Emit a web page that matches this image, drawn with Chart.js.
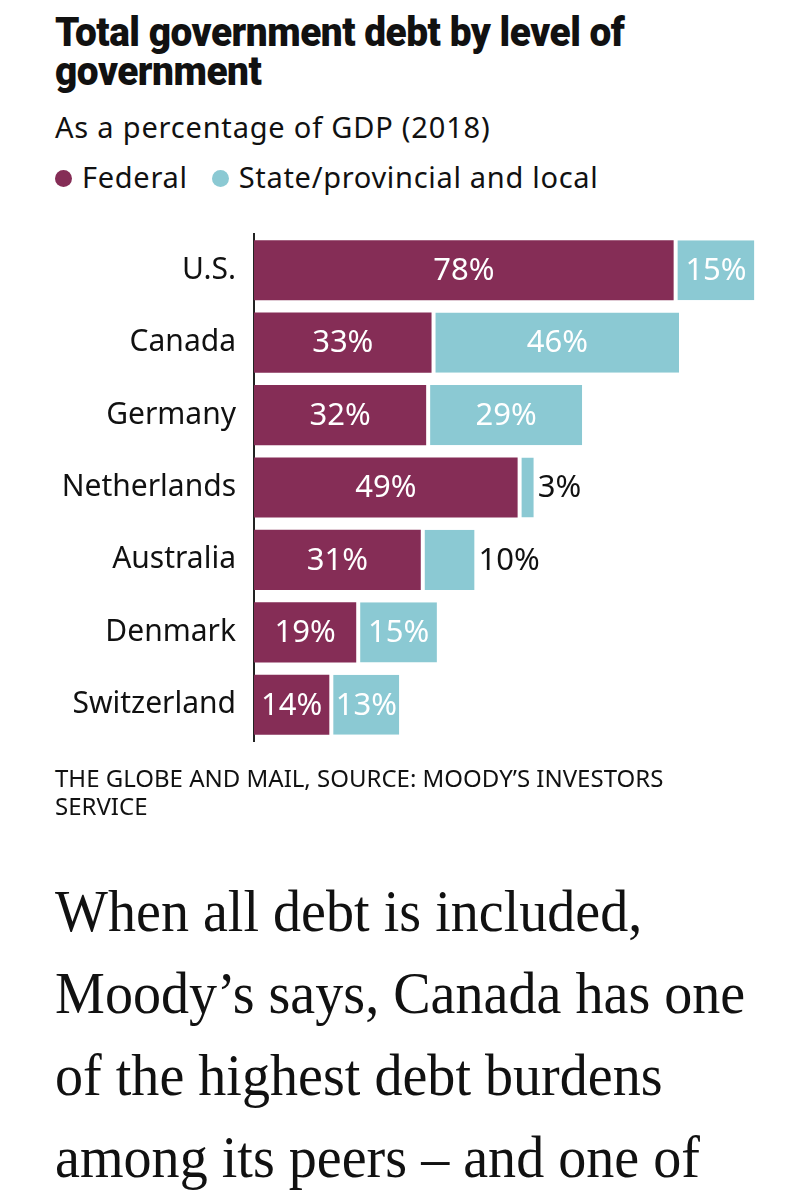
<!DOCTYPE html>
<html>
<head>
<meta charset="utf-8">
<script src="https://cdn.jsdelivr.net/npm/chart.js@4.4.1/dist/chart.umd.min.js"></script>
<style>
  body { margin: 0; background: #fff; width: 811px; height: 1200px; position: relative; overflow: hidden; font-family: "Noto Sans", sans-serif; color: #111; }
  .abs { position: absolute; left: 55px; white-space: nowrap; }
  #title { top: 13px; font-family: Roboto, sans-serif; font-weight: 900; font-size: 40px; line-height: 39px; letter-spacing: -0.5px; transform: scaleX(0.97); transform-origin: left top; }
  #sub { top: 108px; font-size: 29px; line-height: 38px; letter-spacing: 0.8px; }
  #legend { top: 158px; font-size: 29px; line-height: 38px; letter-spacing: 0.7px; }
  #legend .dot { display: inline-block; width: 17px; height: 17px; border-radius: 50%; vertical-align: middle; margin-right: 10px; position: relative; top: -2px; }
  #source { top: 764px; font-size: 24px; line-height: 28px; transform-origin: left top; }
  #body { top: 870px; font-family: "Liberation Serif", serif; font-size: 60px; line-height: 82px; transform: scaleX(0.935); transform-origin: left top; }
  canvas { position: absolute; left: 0; top: 198px; }
</style>
</head>
<body>
<div id="title" class="abs">Total government debt by level of<br>government</div>
<div id="sub" class="abs">As a percentage of GDP (2018)</div>
<div id="legend" class="abs"></div>
<canvas id="myChart" width="811" height="579"></canvas>
<div id="source" class="abs">THE GLOBE AND MAIL, SOURCE: MOODY’S INVESTORS<br>SERVICE</div>
<div id="body" class="abs">When all debt is included,<br>Moody’s says, Canada has one<br>of the highest debt burdens<br>among its peers – and one of</div>
<script>
const countries = ["U.S.", "Canada", "Germany", "Netherlands", "Australia", "Denmark", "Switzerland"];
const federal = [78, 33, 32, 49, 31, 19, 14];
const stateLocal = [15, 46, 29, 3, 10, 15, 13];
const seriesNames = ["Federal", "State/provincial and local"];
const seriesColors = ["#852D56", "#8BC9D3"];

document.addEventListener("DOMContentLoaded", function () {
  // legend in html
  const legend = document.getElementById("legend");
  legend.innerHTML = seriesNames.map(function (name, i) {
    return '<span class="dot" style="background:' + seriesColors[i] + '"></span>' + name;
  }).join('<span style="display:inline-block;width:24px"></span>');

  // value labels on the bars
  const barLabels = {
    id: "barLabels",
    afterDatasetsDraw(chart) {
      const c = chart.ctx;
      c.save();
      c.font = '31px "Noto Sans", sans-serif';
      c.textBaseline = "middle";
      chart.data.datasets.forEach(function (ds, di) {
        chart.getDatasetMeta(di).data.forEach(function (bar, i) {
          const v = ds.data[i];
          const txt = v + "%";
          if (di === 1 && v <= 10) {
            c.fillStyle = "#111";
            c.textAlign = "left";
            c.fillText(txt, bar.x + 4, bar.y + 1);
          } else {
            c.fillStyle = "#fff";
            c.textAlign = "center";
            c.fillText(txt, (bar.x + bar.base) / 2 + (di === 1 ? 2 : 0), bar.y + 1);
          }
        });
      });
      c.restore();
    }
  };

  new Chart(document.getElementById("myChart"), {
    type: "bar",
    data: {
      labels: countries,
      datasets: [
        {
          label: seriesNames[0],
          data: federal,
          backgroundColor: seriesColors[0],
          borderWidth: 0,
        },
        {
          label: seriesNames[1],
          data: stateLocal,
          backgroundColor: seriesColors[1],
          borderColor: "#fff",
          borderWidth: { left: 4, right: 0, top: 0, bottom: 0 },
          borderSkipped: false,
        },
      ],
    },
    options: {
      indexAxis: "y",
      responsive: false,
      animation: false,
      events: [],
      layout: { padding: { top: 0, right: 19, bottom: 0, left: 0 } },
      datasets: { bar: { categoryPercentage: 1, barPercentage: 0.83 } },
      plugins: { legend: { display: false }, tooltip: { enabled: false } },
      scales: {
        x: { stacked: true, min: 0, max: 100, display: false },
        y: {
          stacked: true,
          grid: { display: false, drawTicks: false },
          border: { display: true, color: "#222", width: 2 },
          ticks: { color: "#111", padding: 18, font: { family: "Noto Sans", size: 30 } },
          afterFit: function (scale) { scale.width = 254; },
        },
      },
    },
    plugins: [barLabels],
  });
});
</script>
</body>
</html>
